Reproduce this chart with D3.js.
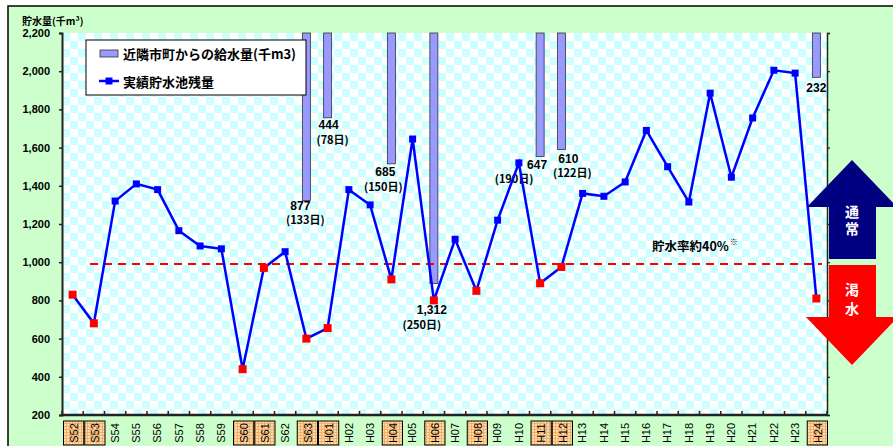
<!DOCTYPE html>
<html>
<head>
<meta charset="utf-8">
<script src="https://cdn.jsdelivr.net/npm/d3@7"></script>
<style>
  html, body { margin: 0; padding: 0; background: #fff; }
  svg { display: block; }
  text { font-family: "Liberation Sans", "Noto Sans CJK JP", sans-serif; }
  .jp { font-family: "Noto Sans CJK JP", "Liberation Sans", sans-serif; }
</style>
</head>
<body>
<svg id="chart" width="893" height="446"></svg>
<script>
// Fiscal years (Showa 52 – Heisei 24)
const categories = ["S52","S53","S54","S55","S56","S57","S58","S59","S60","S61","S62","S63",
  "H01","H02","H03","H04","H05","H06","H07","H08","H09","H10","H11","H12",
  "H13","H14","H15","H16","H17","H18","H19","H20","H21","H22","H23","H24"];

// Actual reservoir storage (thousand m3)
const storage = [830, 680, 1320, 1410, 1380, 1165, 1085, 1070, 440, 970, 1055, 600,
  655, 1380, 1300, 910, 1645, 800, 1120, 850, 1220, 1520, 890, 975,
  1360, 1345, 1420, 1690, 1500, 1315, 1885, 1445, 1755, 2005, 1990, 810];

// Drought years (highlighted)
const droughtYears = ["S52","S53","S60","S61","S63","H01","H04","H06","H08","H11","H12","H24"];

// Water supplied from neighbouring municipalities (thousand m3) and supply days
const supplyYears = ["S63","H01","H04","H06","H11","H12","H24"];
const supplyValues = [877, 444, 685, 1312, 647, 610, 232];
const supplyDays = ["(133日)", "(78日)", "(150日)", "(250日)", "(190日)", "(122日)", ""];

// Storage ratio about 40%
const referenceLevel = 990;
const referenceLabel = "貯水率約40%";

const yTicks = [200, 400, 600, 800, 1000, 1200, 1400, 1600, 1800, 2000, 2200];
const legendLabels = ["近隣市町からの給水量(千m3)", "実績貯水池残量"];
const yTitle = "貯水量(千m³)";
const arrowLabels = ["通常", "渇水"];

// ---------------------------------------------------------------------------
const svg = d3.select("#chart");
const plot = { left: 62, right: 827, top: 33, bottom: 415 };

const x = d3.scaleBand().domain(categories).range([plot.left, plot.right]).padding(0);
const y = d3.scaleLinear().domain([200, 2200]).range([plot.bottom, plot.top]);
const cx = c => x(c) + x.bandwidth() / 2;

const defs = svg.append("defs");
const chk = defs.append("pattern").attr("id", "checker")
  .attr("patternUnits", "userSpaceOnUse").attr("width", 16).attr("height", 16)
  .attr("x", plot.left).attr("y", plot.top);
chk.append("rect").attr("width", 16).attr("height", 16).attr("fill", "#ffffff");
chk.append("rect").attr("width", 8).attr("height", 8).attr("fill", "#ccffff");
chk.append("rect").attr("x", 8).attr("y", 8).attr("width", 8).attr("height", 8).attr("fill", "#ccffff");

const hatch = defs.append("pattern").attr("id", "hatch")
  .attr("patternUnits", "userSpaceOnUse").attr("width", 3).attr("height", 3);
hatch.append("rect").attr("width", 3).attr("height", 3).attr("fill", "#fcdcae");
hatch.append("rect").attr("width", 1).attr("height", 3).attr("fill", "#f2b06a");
hatch.append("rect").attr("width", 3).attr("height", 1).attr("fill", "#f2b06a");

// Outer frame
svg.append("rect").attr("x", 8).attr("y", 6).attr("width", 900).attr("height", 460)
  .attr("fill", "#ccffcc").attr("stroke", "#000").attr("stroke-width", 1.5);

// Plot background
svg.append("rect").attr("x", plot.left).attr("y", plot.top)
  .attr("width", plot.right - plot.left).attr("height", plot.bottom - plot.top)
  .attr("fill", "url(#checker)");

// Y axis title
svg.append("text").attr("class", "jp").attr("x", 22).attr("y", 25)
  .attr("font-size", 10).attr("font-weight", "bold").attr("fill", "#000").text(yTitle);

// Left axis
const yAxis = svg.append("g").attr("transform", `translate(${plot.left},0)`)
  .call(d3.axisLeft(y).tickValues(yTicks).tickSize(3).tickPadding(9).tickFormat(d3.format(",")));
yAxis.select(".domain").attr("stroke", "#222").attr("stroke-width", 2);
yAxis.selectAll(".tick line").attr("stroke", "#222").attr("stroke-width", 1.5);
yAxis.selectAll(".tick text").attr("font-size", 11).attr("font-weight", "bold")
  .attr("fill", "#000").attr("font-family", "Liberation Sans, sans-serif");

// Right axis (ticks only)
const yAxisR = svg.append("g").attr("transform", `translate(${plot.right},0)`)
  .call(d3.axisRight(y).tickValues(yTicks).tickSize(3).tickFormat(""));
yAxisR.select(".domain").attr("stroke", "#222").attr("stroke-width", 1.5);
yAxisR.selectAll(".tick line").attr("stroke", "#222").attr("stroke-width", 1.2);

// Bottom axis with inward ticks at category boundaries
const xb = svg.append("g");
xb.append("line").attr("x1", plot.left).attr("x2", plot.right)
  .attr("y1", plot.bottom).attr("y2", plot.bottom).attr("stroke", "#222").attr("stroke-width", 2.5);
xb.selectAll("line.t").data(categories.concat(["end"])).join("line").attr("class", "t")
  .attr("x1", (d, i) => plot.left + i * x.bandwidth())
  .attr("x2", (d, i) => plot.left + i * x.bandwidth())
  .attr("y1", plot.bottom).attr("y2", plot.bottom - 4)
  .attr("stroke", "#222").attr("stroke-width", 1.5);

// Category labels (highlighted drought years get a framed box)
xb.selectAll("rect.hl").data(categories.filter(c => droughtYears.includes(c))).join("rect")
  .attr("class", "hl")
  .attr("x", c => x(c) + 1.5).attr("y", 421)
  .attr("width", x.bandwidth() - 1).attr("height", 24)
  .attr("fill", "url(#hatch)").attr("stroke", "#000").attr("stroke-width", 1);
xb.selectAll("text.cat").data(categories).join("text").attr("class", "cat")
  .attr("transform", c => `translate(${cx(c) + (droughtYears.includes(c) ? 1.5 : 0)},433) rotate(-90)`)
  .attr("text-anchor", "middle").attr("dy", "0.35em")
  .attr("font-size", 11).attr("fill", "#000").text(c => c);

// Supply bars hanging from the top
const barW = 8;
svg.selectAll("rect.bar").data(supplyYears).join("rect").attr("class", "bar")
  .attr("x", c => cx(c) - barW / 2)
  .attr("y", plot.top)
  .attr("width", barW)
  .attr("height", (c, i) => y(2200 - supplyValues[i]) - plot.top)
  .attr("fill", "#9999ff").attr("stroke", "#333").attr("stroke-width", 0.8);

// Bar labels: value and days, placed around each bar's lower end
const labelOffsets = [
  { vx: -6, vy: 5, dx: -1, dy: 20 },
  { vx: 1, vy: 7, dx: 5, dy: 22 },
  { vx: -6, vy: 8, dx: -8, dy: 23 },
  { vx: -2, vy: 26, dx: -12, dy: 42 },
  { vx: -3, vy: 8, dx: -26, dy: 23 },
  { vx: 7, vy: 9, dx: 11, dy: 24 },
  { vx: 0, vy: 10, dx: 0, dy: 0 }
];
const barLabels = svg.append("g").attr("font-weight", "bold").attr("font-size", 12).attr("fill", "#000");
supplyYears.forEach((c, i) => {
  const bx = cx(c), by = y(2200 - supplyValues[i]), o = labelOffsets[i];
  barLabels.append("text").attr("x", bx + o.vx).attr("y", by + o.vy)
    .attr("dy", "0.35em").attr("text-anchor", "middle")
    .text(d3.format(",")(supplyValues[i]));
  if (supplyDays[i]) {
    barLabels.append("text").attr("class", "jp").attr("x", bx + o.dx).attr("y", by + o.dy)
      .attr("dy", "0.35em").attr("text-anchor", "middle").attr("font-size", 11)
      .text(supplyDays[i]);
  }
});

// Reference line (storage ratio ~40%)
svg.append("line").attr("x1", 90).attr("x2", 822)
  .attr("y1", y(referenceLevel)).attr("y2", y(referenceLevel))
  .attr("stroke", "#ff0000").attr("stroke-width", 2).attr("stroke-dasharray", "8,6");
const refText = svg.append("text").attr("class", "jp").attr("x", 652).attr("y", y(referenceLevel) - 17)
  .attr("dy", "0.35em").attr("font-size", 12.5).attr("font-weight", "bold").attr("fill", "#000")
  .text(referenceLabel);
const refEnd = 652 + refText.node().getComputedTextLength();
svg.append("text").attr("x", refEnd + 1).attr("y", y(referenceLevel) - 22)
  .attr("dy", "0.35em").attr("font-size", 8).attr("font-weight", "bold").attr("fill", "#000")
  .attr("font-family", "Noto Sans CJK JP, sans-serif").text("※");

// Storage line
const line = d3.line().x((d, i) => cx(categories[i])).y(d => y(d));
svg.append("path").datum(storage).attr("d", line)
  .attr("fill", "none").attr("stroke", "#0000ff").attr("stroke-width", 2.5)
  .attr("stroke-linejoin", "miter");

svg.selectAll("rect.mk").data(storage).join("rect").attr("class", "mk")
  .each(function (d, i) {
    const dr = droughtYears.includes(categories[i]);
    const s = dr ? 8 : 7;
    d3.select(this).attr("x", cx(categories[i]) - s / 2).attr("y", y(d) - s / 2)
      .attr("width", s).attr("height", s).attr("fill", dr ? "#ff0000" : "#0000ff");
  });

// Legend
const lg = svg.append("g");
lg.append("rect").attr("x", 86).attr("y", 40).attr("width", 220).attr("height", 55)
  .attr("fill", "#fff").attr("stroke", "#000").attr("stroke-width", 1);
lg.append("rect").attr("x", 100).attr("y", 50).attr("width", 18).attr("height", 7)
  .attr("fill", "#9999ff").attr("stroke", "#333").attr("stroke-width", 0.8);
lg.append("text").attr("class", "jp").attr("x", 123).attr("y", 54).attr("dy", "0.35em")
  .attr("font-size", 13).attr("font-weight", "bold").text(legendLabels[0]);
lg.append("line").attr("x1", 99).attr("x2", 119).attr("y1", 81).attr("y2", 81)
  .attr("stroke", "#0000ff").attr("stroke-width", 2.5);
lg.append("rect").attr("x", 105.5).attr("y", 77.5).attr("width", 7).attr("height", 7).attr("fill", "#0000ff");
lg.append("text").attr("class", "jp").attr("x", 123).attr("y", 82).attr("dy", "0.35em")
  .attr("font-size", 13).attr("font-weight", "bold").text(legendLabels[1]);

// Normal / drought arrows on the right
const ar = svg.append("g");
ar.append("polygon")
  .attr("points", "852,160 897,207 876,207 876,259 829,259 829,207 807,207")
  .attr("fill", "#000080");
ar.append("polygon")
  .attr("points", "829,265 876,265 876,317 898,317 852,365 806,317 829,317")
  .attr("fill", "#ff0000");
ar.selectAll("text").data([[arrowLabels[0], 222, 3], [arrowLabels[1], 302, 5]]).join("text").attr("class", "jp")
  .attr("x", 852).attr("y", d => d[1])
  .attr("writing-mode", "vertical-rl").attr("letter-spacing", d => d[2])
  .attr("text-anchor", "middle").attr("font-size", 14).attr("font-weight", "bold")
  .attr("fill", "#fff").text(d => d[0]);
</script>
</body>
</html>
